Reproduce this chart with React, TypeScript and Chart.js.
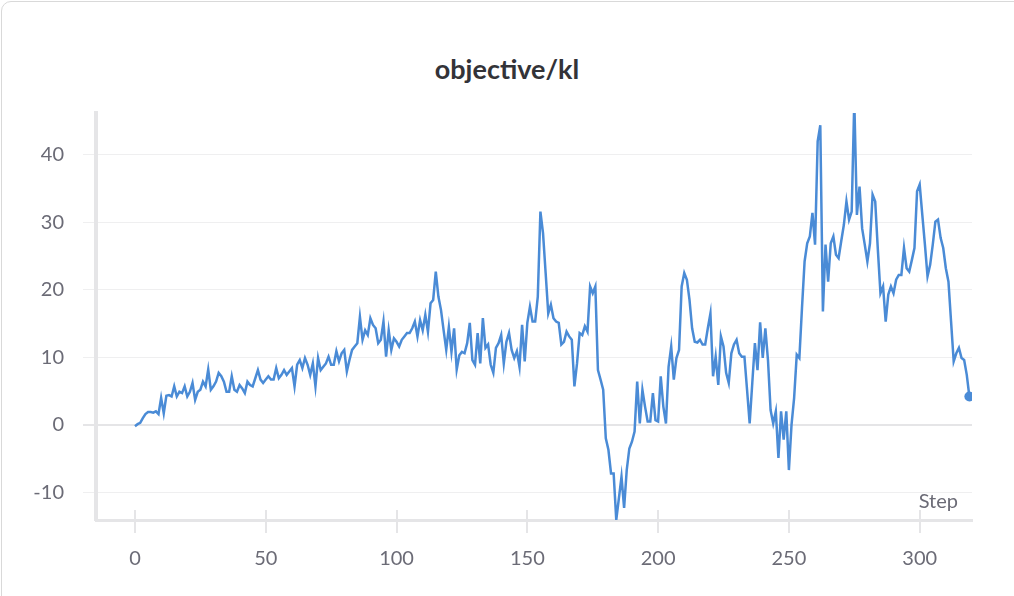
import React, { useEffect, useRef } from "react";
import { Chart, registerables } from "chart.js";

Chart.register(...registerables);

const chartTitle = "objective/kl";
const xAxisLabel = "Step";

// objective/kl value at each logged step (0..319)
const klValues = [
  -0.2, 0.1, 0.3, 1.0, 1.6, 1.9, 1.9, 1.8, 2.0, 1.6,
  4.0, 1.7, 4.3, 4.4, 4.2, 5.7, 4.2, 4.9, 4.7, 5.7,
  4.2, 4.9, 6.2, 3.7, 4.9, 5.2, 6.4, 5.7, 8.2, 5.2,
  5.7, 6.4, 7.7, 7.2, 6.4, 4.9, 4.9, 7.2, 5.2, 4.9,
  5.9, 5.4, 4.7,
  6.4, 5.9, 5.7, 6.9, 8.1, 6.7, 6.2, 6.7, 7.2, 6.7,
  6.7, 8.4, 6.9, 7.4, 8.1, 7.4, 7.9, 8.4, 5.7, 8.9,
  9.6, 8.4, 9.9, 8.9, 7.4, 9.1, 5.7, 9.9, 8.1, 8.6,
  9.1, 10.1, 8.9, 8.9, 10.9, 9.4, 10.6, 11.1, 7.9, 9.6,
  11.1, 11.6, 12.1, 16.0,
  12.6, 14.0, 13.3, 15.8, 14.8, 14.3, 12.1, 12.6, 15.3, 10.1,
  14.0, 11.1, 12.8, 12.3, 11.6, 12.6, 13.1, 13.6, 13.6, 14.3,
  15.3, 13.1, 15.5, 14.0, 16.3, 13.8, 18.0, 18.5, 22.7, 19.0,
  17.0, 14.0, 11.1, 14.5, 10.8, 14.3, 8.2, 10.3, 10.8, 10.6,
  12.1,
  15.1, 9.6, 8.9, 13.6, 9.1, 15.8, 11.4, 11.9, 8.9, 7.7,
  11.4, 12.1, 13.3, 9.1, 12.3, 13.6, 11.1, 9.9, 10.9, 8.6,
  14.8, 9.4, 15.1, 17.5, 15.3, 15.3, 19.0, 31.6, 28.4, 22.5,
  16.5, 17.8, 15.8, 15.3, 15.1, 11.9, 12.3, 13.8, 13.1, 12.6,
  5.7, 9.1, 13.6, 13.3, 14.6, 13.8,
  20.5, 19.5, 20.5, 8.1, 6.7, 5.2, -2.0, -3.7, -7.2, -7.2,
  -14.1, -10.9, -7.7, -12.3, -6.7, -3.5, -2.5, -1.0, 6.4, 0.2,
  5.2, 2.7, 0.5, 0.5, 4.7, 0.7, 0.5, 7.2, 2.7, 0.2,
  8.6, 11.6, 6.7, 9.9, 11.1, 20.5, 22.5, 21.5, 18.5, 14.3,
  12.3, 12.2,
  12.6, 11.9, 11.9, 14.3, 16.5, 7.2, 10.1, 5.9, 13.1, 11.6,
  7.7, 6.2, 10.6, 11.9, 12.6, 10.6, 10.1, 10.1, 5.2, 0.2,
  6.2, 12.1, 8.1, 15.2, 9.9, 14.3, 9.6, 2.2, 0.2, 2.0,
  -4.9, 2.0, -2.2, 2.0, -6.7,
  0.0, 4.0, 10.4, 9.9, 17.3, 24.2, 26.9, 27.9, 31.4, 26.7,
  42.0, 44.4, 16.8, 26.7, 21.2, 26.9, 27.9, 25.2, 24.7, 27.2,
  29.6, 33.1, 30.4, 31.6, 48.0, 31.1, 35.3, 29.1, 26.7, 24.2,
  26.9, 34.1, 33.1, 26.0,
  19.5, 20.5, 15.3, 19.3, 20.5, 19.5, 21.5, 22.2, 22.2, 26.2,
  23.2, 22.7, 24.4, 26.2, 34.6, 35.6, 31.1, 26.7, 22.0, 23.7,
  26.7, 30.1, 30.4, 27.7, 26.2, 23.2, 21.2, 15.3, 9.4, 10.6,
  11.4, 9.9, 9.6, 7.4, 4.2,
];

const steps = klValues.map((_, i) => i);
const xTickValues = [0, 50, 100, 150, 200, 250, 300];
const yTickValues = [-10, 0, 10, 20, 30, 40];
const xRange = [-14.9, 320];
const yRange = [-14.1, 46.2];

const FONT = "'Source Sans Pro', Lato, 'Noto Sans', sans-serif";
const TICK_COLOR = "#6b6b76";
const LINE_COLOR = "#4a8bd6";
const AXIS_COLOR = "#e5e5e7";
const GRID_COLOR = "#efeff0";

const axisDecor = {
  id: "axisDecor",
  beforeDatasetsDraw(chart: any) {
    const { ctx, chartArea, scales } = chart;
    ctx.save();
    ctx.strokeStyle = AXIS_COLOR;
    ctx.lineWidth = 2;
    for (const v of xTickValues) {
      const px = Math.round(scales.x.getPixelForValue(v));
      ctx.beginPath();
      ctx.moveTo(px, chartArea.bottom - 10);
      ctx.lineTo(px, chartArea.bottom + 13);
      ctx.stroke();
    }
    ctx.restore();
  },
  afterDraw(chart: any) {
    const { ctx, chartArea } = chart;
    ctx.save();
    ctx.fillStyle = TICK_COLOR;
    ctx.font = `20px ${FONT}`;
    ctx.textAlign = "right";
    ctx.textBaseline = "middle";
    ctx.fillText(xAxisLabel, chartArea.right - 14, chartArea.bottom - 18);
    ctx.restore();
  },
};

export default function App() {
  const canvasRef = useRef<HTMLCanvasElement | null>(null);

  useEffect(() => {
    if (!canvasRef.current) return;
    Chart.defaults.font.family = FONT;
    const chart = new Chart(canvasRef.current, {
      type: "line",
      data: {
        datasets: [
          {
            data: steps.map((s, i) => ({ x: s, y: klValues[i] })),
            borderColor: LINE_COLOR,
            backgroundColor: LINE_COLOR,
            borderWidth: 2.5,
            tension: 0,
            pointRadius: (ctx: any) => (ctx.dataIndex === klValues.length - 1 ? 5 : 0),
            pointBorderWidth: 0,
            pointBackgroundColor: LINE_COLOR,
          },
        ],
      },
      plugins: [axisDecor],
      options: {
        responsive: false,
        animation: false,
        events: [],
        layout: { padding: { top: 113, right: 42, left: 0, bottom: 0 } },
        plugins: {
          legend: { display: false },
          title: { display: false },
          tooltip: { enabled: false },
        },
        scales: {
          x: {
            type: "linear",
            min: xRange[0],
            max: xRange[1],
            afterBuildTicks: (scale: any) => {
              scale.ticks = xTickValues.map((v) => ({ value: v }));
            },
            afterFit: (scale: any) => {
              scale.height = 76;
            },
            grid: { display: false, drawTicks: true, tickLength: 13 },
            border: { display: true, color: AXIS_COLOR, width: 3 },
            ticks: {
              color: TICK_COLOR,
              font: { size: 20 },
              padding: 14,
              maxRotation: 0,
              autoSkip: false,
            },
          },
          y: {
            type: "linear",
            min: yRange[0],
            max: yRange[1],
            afterBuildTicks: (scale: any) => {
              scale.ticks = yTickValues.map((v) => ({ value: v }));
            },
            afterFit: (scale: any) => {
              scale.width = 96;
            },
            grid: {
              color: (ctx: any) => (ctx.tick && ctx.tick.value === 0 ? AXIS_COLOR : GRID_COLOR),
              lineWidth: (ctx: any) => (ctx.tick && ctx.tick.value === 0 ? 2 : 1),
              drawTicks: true,
              tickLength: 13,
            },
            border: { display: true, color: AXIS_COLOR, width: 4 },
            ticks: {
              color: TICK_COLOR,
              font: { size: 20 },
              padding: 19,
              autoSkip: false,
            },
          },
        },
      },
    } as any);
    return () => chart.destroy();
  }, []);

  return (
    <div style={{ position: "fixed", left: 0, top: 0, width: 1014, height: 596, background: "#fff", overflow: "hidden" }}>
      <div
        style={{
          position: "absolute",
          left: 1,
          top: 1,
          width: 1100,
          height: 700,
          border: "1px solid #d9d9d9",
          borderRadius: 10,
          boxSizing: "border-box",
          pointerEvents: "none",
        }}
      />
      <div
        style={{
          position: "absolute",
          left: 0,
          top: 53,
          width: 1014,
          textAlign: "center",
          font: `700 27px ${FONT}`,
          lineHeight: "32px",
          color: "#333338",
        }}
      >
        {chartTitle}
      </div>
      <canvas ref={canvasRef} width={1014} height={596} style={{ position: "absolute", left: 0, top: 0, display: "block" }} />
    </div>
  );
}
